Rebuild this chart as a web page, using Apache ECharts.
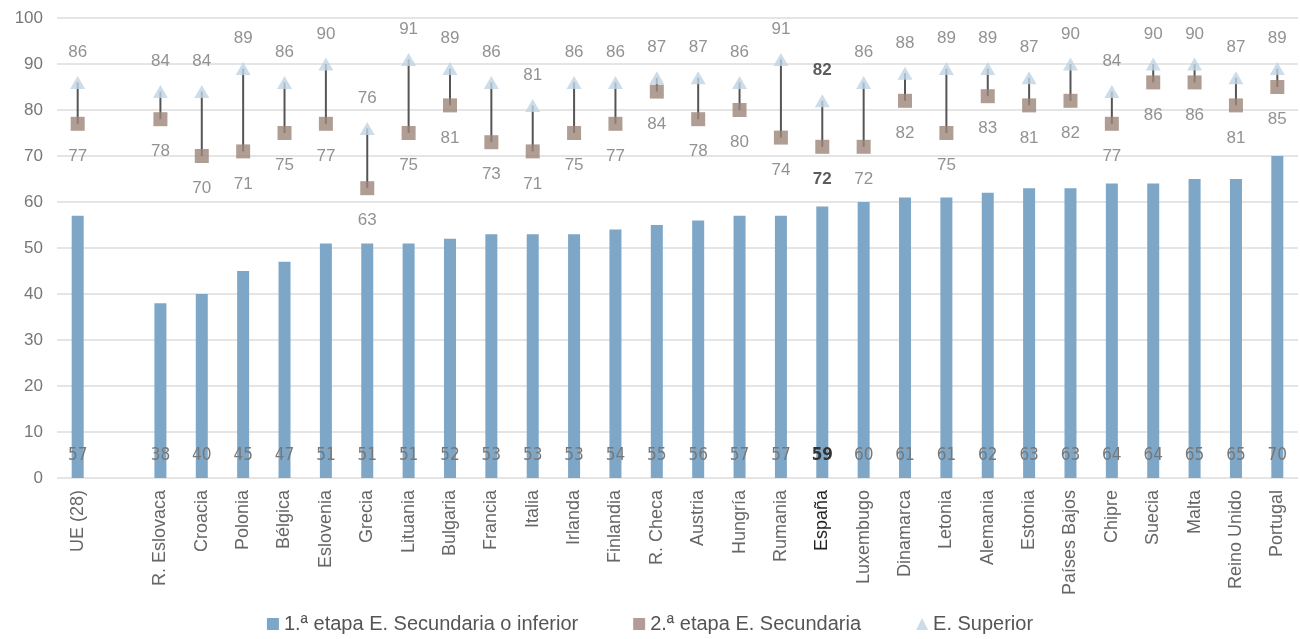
<!DOCTYPE html>
<html>
<head>
<meta charset="utf-8">
<script src="https://cdn.jsdelivr.net/npm/echarts@6/dist/echarts.min.js"></script>
<style>html,body{margin:0;padding:0;background:#fff}#c{width:1300px;height:639px}</style>
</head>
<body>
<div id="c"></div>
<script>
const categories = ['UE (28)', '', 'R. Eslovaca', 'Croacia', 'Polonia', 'Bélgica', 'Eslovenia', 'Grecia', 'Lituania', 'Bulgaria', 'Francia', 'Italia', 'Irlanda', 'Finlandia', 'R. Checa', 'Austria', 'Hungría', 'Rumania', 'España', 'Luxembugo', 'Dinamarca', 'Letonia', 'Alemania', 'Estonia', 'Países Bajos', 'Chipre', 'Suecia', 'Malta', 'Reino Unido', 'Portugal'];
const primera = [57, null, 38, 40, 45, 47, 51, 51, 51, 52, 53, 53, 53, 54, 55, 56, 57, 57, 59, 60, 61, 61, 62, 63, 63, 64, 64, 65, 65, 70];
const segunda = [77, null, 78, 70, 71, 75, 77, 63, 75, 81, 73, 71, 75, 77, 84, 78, 80, 74, 72, 72, 82, 75, 83, 81, 82, 77, 86, 86, 81, 85];
const superior = [86, null, 84, 84, 89, 86, 90, 76, 91, 89, 86, 81, 86, 86, 87, 87, 86, 91, 82, 86, 88, 89, 89, 87, 90, 84, 90, 90, 87, 89];
const yTicks = [0, 10, 20, 30, 40, 50, 60, 70, 80, 90, 100];
const highlight = 'España';

const seriesNames = ['1.ª etapa E. Secundaria o inferior', '2.ª etapa E. Secundaria', 'E. Superior'];
const colBar = '#7ea6c6', colSq = '#9c8679', colTri = '#bfd3e2';
const hlIdx = categories.indexOf(highlight);
const narrow = "'DejaVu Sans Condensed', 'Liberation Sans', sans-serif";
const regular = "'Liberation Sans', Arial, sans-serif";

function mk(arr) {
  return arr.map((v, i) => {
    if (v == null) return null;
    if (i === hlIdx) return { value: v, label: { color: '#333', fontWeight: 'bold' } };
    return v;
  });
}

const chart = echarts.init(document.getElementById('c'));
chart.setOption({
  animation: false,
  grid: { left: 57, right: 2, top: 18, bottom: 161 },
  legend: {
    bottom: 0, left: 'center',
    itemWidth: 12, itemHeight: 12, itemGap: 55,
    textStyle: { fontFamily: regular, fontSize: 20, color: '#555' },
    data: [
      { name: seriesNames[0], icon: 'rect' },
      { name: seriesNames[1], icon: 'rect' },
      { name: seriesNames[2], icon: 'triangle' }
    ]
  },
  xAxis: {
    type: 'category', data: categories.map(c => c === highlight ? { value: c, textStyle: { color: '#222' } } : c),
    axisLine: { show: false }, axisTick: { show: false },
    axisLabel: { rotate: 90, interval: 0, fontFamily: regular, fontSize: 18, color: '#666', margin: 12 }
  },
  yAxis: {
    type: 'value', min: yTicks[0], max: yTicks[yTicks.length - 1], interval: 10,
    axisLine: { show: false }, axisTick: { show: false },
    axisLabel: { fontFamily: regular, fontSize: 17, color: '#777', margin: 14 },
    splitLine: { lineStyle: { color: '#dcdcdc', width: 1.5 } }
  },
  series: [
    {
      name: seriesNames[0], type: 'bar', data: mk(primera), barWidth: 12,
      itemStyle: { color: colBar },
      label: { show: true, position: 'insideBottom', distance: 14, fontFamily: narrow, fontSize: 17, color: '#777' }
    },
    {
      type: 'custom', silent: true,
      data: segunda.map((v, i) => v == null ? null : [i, v, superior[i]]).filter(d => d),
      renderItem: function (params, api) {
        const lo = api.coord([api.value(0), api.value(1)]);
        const hi = api.coord([api.value(0), api.value(2)]);
        return { type: 'line', shape: { x1: lo[0], y1: lo[1], x2: hi[0], y2: hi[1] }, style: { stroke: '#555', lineWidth: 2 } };
      },
      z: 3
    },
    {
      name: seriesNames[1], type: 'scatter', data: mk(segunda), symbol: 'rect', symbolSize: 14,
      itemStyle: { color: colSq }, z: 4,
      label: { show: true, position: 'bottom', distance: 17, fontFamily: regular, fontSize: 17, color: '#777' }
    },
    {
      name: seriesNames[2], type: 'scatter', data: mk(superior), symbol: 'triangle', symbolSize: [15, 13],
      itemStyle: { color: colTri }, z: 5,
      label: { show: true, position: 'top', distance: 15, fontFamily: regular, fontSize: 17, color: '#777' }
    }
  ]
});
</script>
</body>
</html>
